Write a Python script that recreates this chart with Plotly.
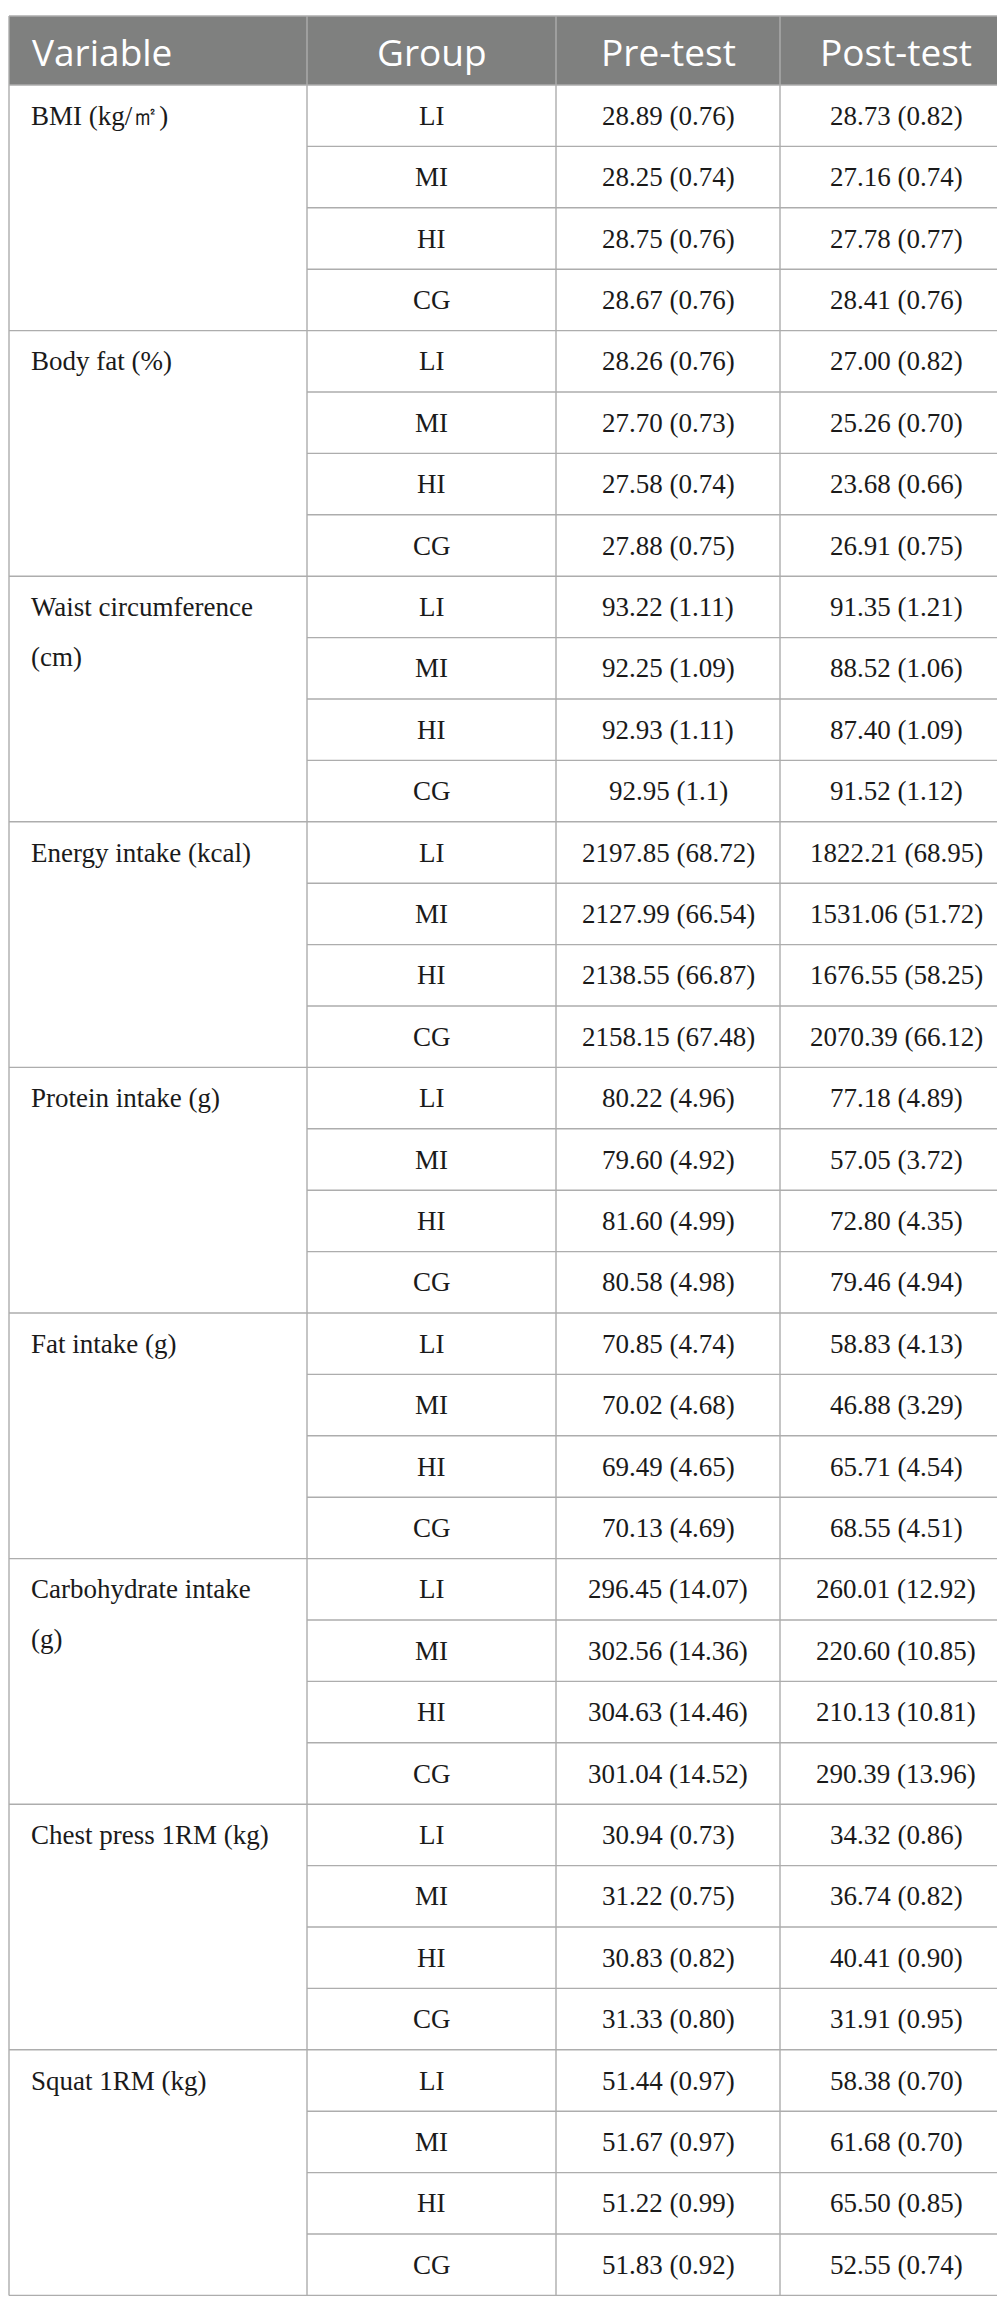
import plotly.graph_objects as go

variables = ["BMI (kg/㎡)", "Body fat (%)", "Waist circumference|(cm)", "Energy intake (kcal)",
             "Protein intake (g)", "Fat intake (g)", "Carbohydrate intake|(g)",
             "Chest press 1RM (kg)", "Squat 1RM (kg)"]
groups = ["LI", "MI", "HI", "CG"]
headers = ["Variable", "Group", "Pre-test", "Post-test"]

pre_test = [
    ["28.89 (0.76)", "28.25 (0.74)", "28.75 (0.76)", "28.67 (0.76)"],
    ["28.26 (0.76)", "27.70 (0.73)", "27.58 (0.74)", "27.88 (0.75)"],
    ["93.22 (1.11)", "92.25 (1.09)", "92.93 (1.11)", "92.95 (1.1)"],
    ["2197.85 (68.72)", "2127.99 (66.54)", "2138.55 (66.87)", "2158.15 (67.48)"],
    ["80.22 (4.96)", "79.60 (4.92)", "81.60 (4.99)", "80.58 (4.98)"],
    ["70.85 (4.74)", "70.02 (4.68)", "69.49 (4.65)", "70.13 (4.69)"],
    ["296.45 (14.07)", "302.56 (14.36)", "304.63 (14.46)", "301.04 (14.52)"],
    ["30.94 (0.73)", "31.22 (0.75)", "30.83 (0.82)", "31.33 (0.80)"],
    ["51.44 (0.97)", "51.67 (0.97)", "51.22 (0.99)", "51.83 (0.92)"],
]
post_test = [
    ["28.73 (0.82)", "27.16 (0.74)", "27.78 (0.77)", "28.41 (0.76)"],
    ["27.00 (0.82)", "25.26 (0.70)", "23.68 (0.66)", "26.91 (0.75)"],
    ["91.35 (1.21)", "88.52 (1.06)", "87.40 (1.09)", "91.52 (1.12)"],
    ["1822.21 (68.95)", "1531.06 (51.72)", "1676.55 (58.25)", "2070.39 (66.12)"],
    ["77.18 (4.89)", "57.05 (3.72)", "72.80 (4.35)", "79.46 (4.94)"],
    ["58.83 (4.13)", "46.88 (3.29)", "65.71 (4.54)", "68.55 (4.51)"],
    ["260.01 (12.92)", "220.60 (10.85)", "210.13 (10.81)", "290.39 (13.96)"],
    ["34.32 (0.86)", "36.74 (0.82)", "40.41 (0.90)", "31.91 (0.95)"],
    ["58.38 (0.70)", "61.68 (0.70)", "65.50 (0.85)", "52.55 (0.74)"],
]

W, H = 1005, 2305
col_x = [1, 299, 548, 772, 1004]   # column edges
top = 8
head_h = 69
row_h = 61.4
line_col = "#adadad"
head_fill = "#7f807f"
serif = "Liberation Serif, Times New Roman, serif"
sans = "Open Sans, Noto Sans, sans-serif"

n_rows = len(variables) * len(groups)
body_top = top + head_h
bottom = body_top + n_rows * row_h

shapes = []
annotations = []

def hline(y, x0, x1):
    shapes.append(dict(type="line", xref="x", yref="y", x0=x0, x1=x1, y0=y, y1=y,
                       line=dict(color=line_col, width=1.4)))

# header
shapes.append(dict(type="rect", xref="x", yref="y", x0=col_x[0], x1=col_x[-1], y0=top, y1=body_top,
                   fillcolor=head_fill, line=dict(width=0), layer="below"))
for j, h in enumerate(headers):
    if j == 0:
        x, anchor = col_x[0] + 21, "left"
    else:
        x, anchor = (col_x[j] + col_x[j + 1]) / 2, "center"
    annotations.append(dict(x=x, y=top + head_h / 2 + 1, text=h, xanchor=anchor, yanchor="middle",
                            showarrow=False, font=dict(family=sans, size=37, color="white")))

hline(top, col_x[0], col_x[-1])
hline(body_top, col_x[0], col_x[-1])

# body
for v, var in enumerate(variables):
    g_top = body_top + v * len(groups) * row_h
    lines = var.split("|")
    for k, ln in enumerate(lines):
        annotations.append(dict(x=col_x[0] + 20, y=g_top + row_h / 2 + k * 50, text=ln,
                                xanchor="left", yanchor="middle", showarrow=False,
                                font=dict(family=serif, size=27, color="#1a1a1a")))
    for i, g in enumerate(groups):
        yc = g_top + i * row_h + row_h / 2
        cells = [g, pre_test[v][i], post_test[v][i]]
        for j, c in enumerate(cells):
            annotations.append(dict(x=(col_x[j + 1] + col_x[j + 2]) / 2, y=yc, text=c,
                                    xanchor="center", yanchor="middle", showarrow=False,
                                    font=dict(family=serif, size=27, color="#1a1a1a")))
        if i > 0:
            hline(g_top + i * row_h, col_x[1], col_x[-1])
    hline(g_top + len(groups) * row_h, col_x[0], col_x[-1])

for x in col_x:
    shapes.append(dict(type="line", xref="x", yref="y", x0=x, x1=x, y0=top, y1=bottom,
                       line=dict(color=line_col, width=1.4)))

fig = go.Figure()
fig.update_layout(
    width=W, height=H,
    margin=dict(l=0, r=0, t=0, b=0),
    paper_bgcolor="white", plot_bgcolor="white",
    xaxis=dict(range=[0, W], visible=False, fixedrange=True),
    yaxis=dict(range=[H, 0], visible=False, fixedrange=True),
    shapes=shapes, annotations=annotations, showlegend=False,
)
fig.write_html("out.html")
